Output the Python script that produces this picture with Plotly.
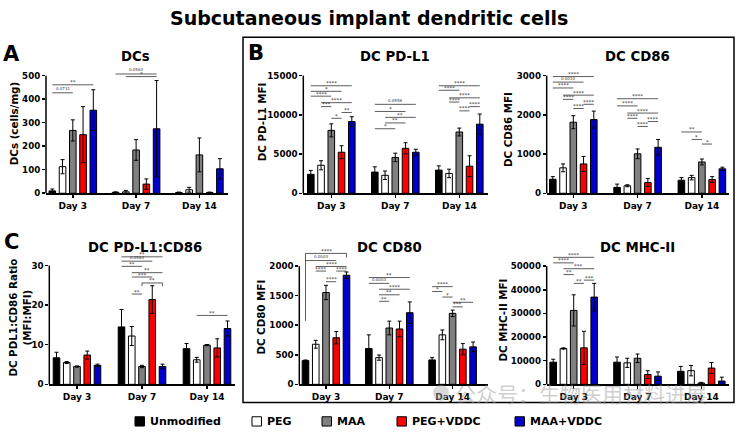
import plotly.graph_objects as go

W, H = 738, 433
FONT = "DejaVu Sans"

days = ["Day 3", "Day 7", "Day 14"]
groups = ["Unmodified", "PEG", "MAA", "PEG+VDDC", "MAA+VDDC"]
colors = ["#000000", "#ffffff", "#808080", "#ff0000", "#0000cc"]

# rows = groups, columns = days
dcs_mean = [[10, 4, 3], [113, 6, 15], [267, 184, 163], [249, 39, 3], [353, 274, 104]]
dcs_sd = [[8, 2, 2], [30, 6, 10], [45, 44, 72], [119, 22, 2], [87, 205, 43]]

pdl1_mean = [[2410, 2700, 2950], [3570, 2290, 2530], [8020, 4570, 7810], [5230, 5730, 3450], [9140, 5230, 8810]]
pdl1_sd = [[500, 670, 540], [580, 540, 540], [830, 540, 500], [830, 710, 1330], [620, 380, 1290]]

cd86_mean = [[357, 150, 332], [648, 191, 399], [1812, 1006, 798], [748, 274, 349], [1879, 1172, 623]]
cd86_sd = [[67, 83, 67], [100, 25, 58], [166, 124, 75], [191, 100, 75], [216, 200, 42]]

ratio_mean = [[6.7, 14.5, 9.0], [5.5, 12.2, 6.2], [4.5, 4.5, 9.9], [7.4, 21.4, 9.2], [4.8, 4.5, 14.1]]
ratio_sd = [[1.4, 4.4, 1.3], [0.25, 2.4, 0.6], [0.15, 0.3, 0.15], [1.0, 3.5, 2.3], [0.3, 0.6, 1.9]]

cd80_mean = [[402, 606, 413], [678, 452, 837], [1554, 953, 1201], [788, 937, 595], [1846, 1212, 634]]
cd80_sd = [[10, 231, 39], [66, 44, 83], [121, 116, 55], [105, 132, 94], [55, 182, 82]]

mhc_mean = [[9370, 9370, 5510], [15150, 9090, 5790], [31270, 11020, 550], [15430, 4130, 6890], [36900, 3440, 1380]]
mhc_sd = [[1240, 2200, 2070], [280, 1930, 2200], [6600, 1800, 280], [7000, 1650, 2340], [5800, 1800, 1650]]

# significance brackets: (day, group_i, group_j, height, label, leg_lengths)
dcs_sig = [(0, 0, 4, 461, "**", None), (0, 0, 2, 427, "0.0731", None),
           (1, 0, 4, 507, "0.0563", None), (1, 1, 4, 496, "*", None)]
pdl1_sig = [(0, 0, 4, 13710, "****", None), (0, 0, 3, 13000, "*", None), (0, 0, 2, 12380, "****", None),
            (0, 1, 4, 11550, "****", None), (0, 1, 2, 11050, "***", None), (0, 3, 4, 10300, "**", None),
            (0, 2, 3, 9560, "*", None),
            (1, 0, 4, 11340, "0.0556", None), (1, 0, 3, 10430, "*", None), (1, 1, 4, 9680, "**", None),
            (1, 1, 3, 8970, "**", None), (1, 0, 2, 8230, "*", None),
            (2, 0, 4, 13710, "****", None), (2, 0, 2, 13130, "****", None), (2, 1, 4, 12170, "****", None),
            (2, 1, 2, 11630, "****", None), (2, 3, 4, 11050, "****", None), (2, 2, 3, 10510, "****", None)]
cd86_sig = [(0, 0, 4, 2976, "****", None), (0, 0, 3, 2835, "0.0010", None), (0, 0, 2, 2685, "****", None),
            (0, 1, 4, 2502, "****", None), (0, 1, 2, 2394, "****", None), (0, 3, 4, 2269, "****", None),
            (0, 2, 3, 2161, "****", None),
            (1, 0, 4, 2411, "****", None), (1, 0, 2, 2228, "****", None), (1, 1, 4, 2045, "****", None),
            (1, 1, 2, 1912, "****", None), (1, 3, 4, 1829, "****", None), (1, 2, 3, 1704, "****", None),
            (2, 0, 2, 1563, "**", None), (2, 1, 2, 1372, "*", None), (2, 2, 3, 1255, "*", None)]
ratio_sig = [(1, 0, 4, 32.2, "**", None), (1, 0, 3, 31.1, "0.0563", None), (1, 0, 2, 29.8, "**", None),
             (1, 1, 4, 28.2, "**", None), (1, 1, 3, 27.1, "***", None), (1, 2, 4, 25.6, "**", (0.8, 0.8)),
             (1, 1, 2, 22.8, "**", None), (2, 1, 4, 17.4, "**", None)]
cd80_sig = [(0, 0, 4, 2215, "****", (1141, 70)), (0, 0, 3, 2094, "0.0003", None), (0, 1, 4, 1994, "****", None),
            (0, 1, 2, 1917, "****", None), (0, 3, 4, 1917, "****", None), (0, 2, 3, 1736, "****", None),
            (1, 0, 4, 1807, "**", None), (1, 0, 2, 1708, "0.0003", None), (1, 1, 4, 1609, "****", None),
            (1, 1, 3, 1515, "**", None), (1, 1, 2, 1405, "**", None),
            (2, 0, 2, 1653, "****", None), (2, 0, 1, 1570, "*", None), (2, 1, 2, 1477, "*", None),
            (2, 2, 4, 1388, "**", None), (2, 2, 3, 1311, "***", None)]
mhc_sig = [(0, 0, 4, 53720, "****", None), (0, 0, 2, 51380, "****", None), (0, 1, 4, 48900, "***", None),
           (0, 1, 2, 46420, "**", None), (0, 3, 4, 44080, "***", None), (0, 2, 3, 42700, "**", None)]

panels = [
    dict(title="DCs", ytitle="DCs (cells/mg)", mean=dcs_mean, sd=dcs_sd, sig=dcs_sig,
         xl=46, xr=228, c0=72.8, unit=63.3, y0=192.7, yt=72.3, ttop=500, dtick=100, rtop=520,
         tpos=(135, 53), ypos=(14, 122)),
    dict(title="DC PD-L1", ytitle="DC PD-L1 MFI", mean=pdl1_mean, sd=pdl1_sd, sig=pdl1_sig,
         xl=303.3, xr=488, c0=331.3, unit=64, y0=192.7, yt=72.3, ttop=15000, dtick=5000, rtop=15000,
         tpos=(395, 53), ypos=(262, 120)),
    dict(title="DC CD86", ytitle="DC CD86 MFI", mean=cd86_mean, sd=cd86_sd, sig=cd86_sig,
         xl=546.7, xr=729.3, c0=573.3, unit=64.3, y0=192.7, yt=72.3, ttop=3000, dtick=1000, rtop=3000,
         tpos=(637, 53), ypos=(508, 128)),
    dict(title="DC PD-L1:CD86", ytitle="DC PDL1:CD86 Ratio<br>(MFI:MFI)", mean=ratio_mean, sd=ratio_sd,
         sig=ratio_sig, xl=49.3, xr=235, c0=77, unit=65, y0=388.3, yt=266.7, ttop=30, dtick=10, rtop=33,
         tpos=(145, 248), ypos=(20, 320)),
    dict(title="DC CD80", ytitle="DC CD80 MFI", mean=cd80_mean, sd=cd80_sd, sig=cd80_sig,
         xl=299.3, xr=488, c0=326, unit=63.3, y0=388.3, yt=267.3, ttop=2000, dtick=500, rtop=2300,
         tpos=(389, 248), ypos=(261, 320)),
    dict(title="DC MHC-II", ytitle="DC MHC-II MFI", mean=mhc_mean, sd=mhc_sd, sig=mhc_sig,
         xl=546.7, xr=729.3, c0=573.7, unit=63.8, y0=388.3, yt=267.3, ttop=50000, dtick=10000, rtop=55000,
         tpos=(637, 248), ypos=(503, 323)),
]

BAR_SPACING_PX = 10.25
BAR_WIDTH_PX = 6.6


def px(x):
    return x / W


def py(y):
    return 1 - y / H


fig = go.Figure()
shapes = []
annotations = []
layout = {}

for k, p in enumerate(panels):
    n = k + 1
    xs = "x" if n == 1 else f"x{n}"
    ys = "y" if n == 1 else f"y{n}"
    xa = "xaxis" if n == 1 else f"xaxis{n}"
    ya = "yaxis" if n == 1 else f"yaxis{n}"
    off = BAR_SPACING_PX / p["unit"]
    wd = BAR_WIDTH_PX / p["unit"]
    for g in range(5):
        fig.add_trace(go.Bar(
            x=[d + (g - 2) * off for d in range(len(days))], y=p["mean"][g], width=wd,
            marker=dict(color=colors[g], line=dict(color="black", width=1)),
            error_y=dict(type="data", array=p["sd"][g], color="black", thickness=1, width=2),
            xaxis=xs, yaxis=ys, showlegend=False, name=groups[g]))
    ppu = (p["y0"] - p["yt"]) / p["ttop"]
    ytop_px = p["y0"] - p["rtop"] * ppu
    layout[xa] = dict(domain=[px(p["xl"]), px(p["xr"])],
                      range=[(p["xl"] - p["c0"]) / p["unit"], (p["xr"] - p["c0"]) / p["unit"]],
                      tickvals=list(range(len(days))), ticktext=days, showline=True, linewidth=1.5,
                      linecolor="black", ticks="outside", ticklen=3, tickwidth=1.5, tickcolor="black",
                      showgrid=False, zeroline=False, anchor=ys,
                      tickfont=dict(family=FONT, size=9, color="black", weight="bold"))
    layout[ya] = dict(domain=[py(p["y0"]), py(ytop_px)], range=[0, p["rtop"]],
                      tickvals=list(range(0, p["ttop"] + 1, p["dtick"])), tickformat="d", showline=False,
                      ticks="outside", ticklen=3, tickwidth=1.5, tickcolor="black",
                      showgrid=False, zeroline=False, anchor=xs,
                      tickfont=dict(family=FONT, size=8.7, color="black", weight="bold"))
    # y axis line from 0 up to the top tick
    shapes.append(dict(type="line", xref="paper", yref="paper", x0=px(p["xl"]), x1=px(p["xl"]),
                       y0=py(p["y0"]), y1=py(p["yt"]), line=dict(color="black", width=1.5)))
    # significance brackets
    for (d, i, j, h, lab, legs) in p["sig"]:
        xa0 = d + (i - 2) * off
        xa1 = d + (j - 2) * off
        shapes.append(dict(type="line", xref=xs, yref=ys, x0=xa0, x1=xa1, y0=h, y1=h,
                           line=dict(color="#333333", width=0.8)))
        if legs:
            shapes.append(dict(type="line", xref=xs, yref=ys, x0=xa0, x1=xa0, y0=h, y1=h - legs[0],
                               line=dict(color="#333333", width=0.8)))
            shapes.append(dict(type="line", xref=xs, yref=ys, x0=xa1, x1=xa1, y0=h, y1=h - legs[1],
                               line=dict(color="#333333", width=0.8)))
        small = "." in lab
        annotations.append(dict(x=(xa0 + xa1) / 2, y=h, xref=xs, yref=ys, text=lab, showarrow=False,
                                yanchor="bottom", yshift=-2.5 if not small else -0.5,
                                font=dict(family=FONT, size=4 if small else 5.5, color="#333333")))
    annotations.append(dict(x=px(p["tpos"][0]), y=py(p["tpos"][1]), xref="paper", yref="paper",
                            text=p["title"], showarrow=False, xanchor="center", yanchor="middle",
                            font=dict(family=FONT, size=13.3, color="black", weight="bold")))
    annotations.append(dict(x=px(p["ypos"][0]), y=py(p["ypos"][1]), xref="paper", yref="paper",
                            text=p["ytitle"], showarrow=False, textangle=-90, xanchor="center",
                            yanchor="middle",
                            font=dict(family=FONT, size=10.3, color="black", weight="bold")))

# panel letters and main title
for letter, (lx, ly) in [("A", (11, 50)), ("B", (256, 49)), ("C", (11, 243))]:
    annotations.append(dict(x=px(lx), y=py(ly), xref="paper", yref="paper", text=letter,
                            showarrow=False, xanchor="center", yanchor="middle",
                            font=dict(family=FONT, size=21, color="black", weight="bold")))
annotations.append(dict(x=0.5, y=py(13), xref="paper", yref="paper",
                        text="Subcutaneous implant dendritic cells", showarrow=False,
                        xanchor="center", yanchor="middle",
                        font=dict(family=FONT, size=19, color="black", weight="bold")))

# box around panel B
shapes.append(dict(type="rect", xref="paper", yref="paper", x0=px(243), x1=px(734), y0=py(407), y1=py(33),
                   line=dict(color="black", width=1.5), fillcolor="rgba(0,0,0,0)"))

# legend
legend_pos = [135, 252, 322, 397, 515]
for g in range(5):
    sx = legend_pos[g]
    shapes.append(dict(type="rect", xref="paper", yref="paper", x0=px(sx), x1=px(sx + 9.5),
                       y0=py(431), y1=py(421.5), fillcolor=colors[g], line=dict(color="black", width=1)))
    annotations.append(dict(x=px(sx + 13), y=py(426.5), xref="paper", yref="paper", text=groups[g],
                            showarrow=False, xanchor="left", yanchor="middle",
                            font=dict(family=FONT, size=11, color="black", weight="bold")))

# watermark
shapes.append(dict(type="circle", xref="paper", yref="paper", x0=px(433), x1=px(449), y0=py(405), y1=py(389),
                   fillcolor="rgba(170,170,170,0.45)", line=dict(width=0)))
annotations.append(dict(x=px(453), y=py(397), xref="paper", yref="paper", text="公众号：生物医用材料进展",
                        showarrow=False, xanchor="left", yanchor="middle",
                        font=dict(family="Noto Sans CJK SC", size=21, color="rgba(160,160,160,0.5)")))

fig.update_layout(width=W, height=H, margin=dict(l=0, r=0, t=0, b=0), paper_bgcolor="white",
                  plot_bgcolor="white", barmode="overlay", showlegend=False, hovermode=False,
                  shapes=shapes, annotations=annotations, **layout)

fig.write_html("out.html", config={"displayModeBar": False, "staticPlot": True},
               post_script="document.body.style.margin='0';document.body.style.overflow='hidden';")
